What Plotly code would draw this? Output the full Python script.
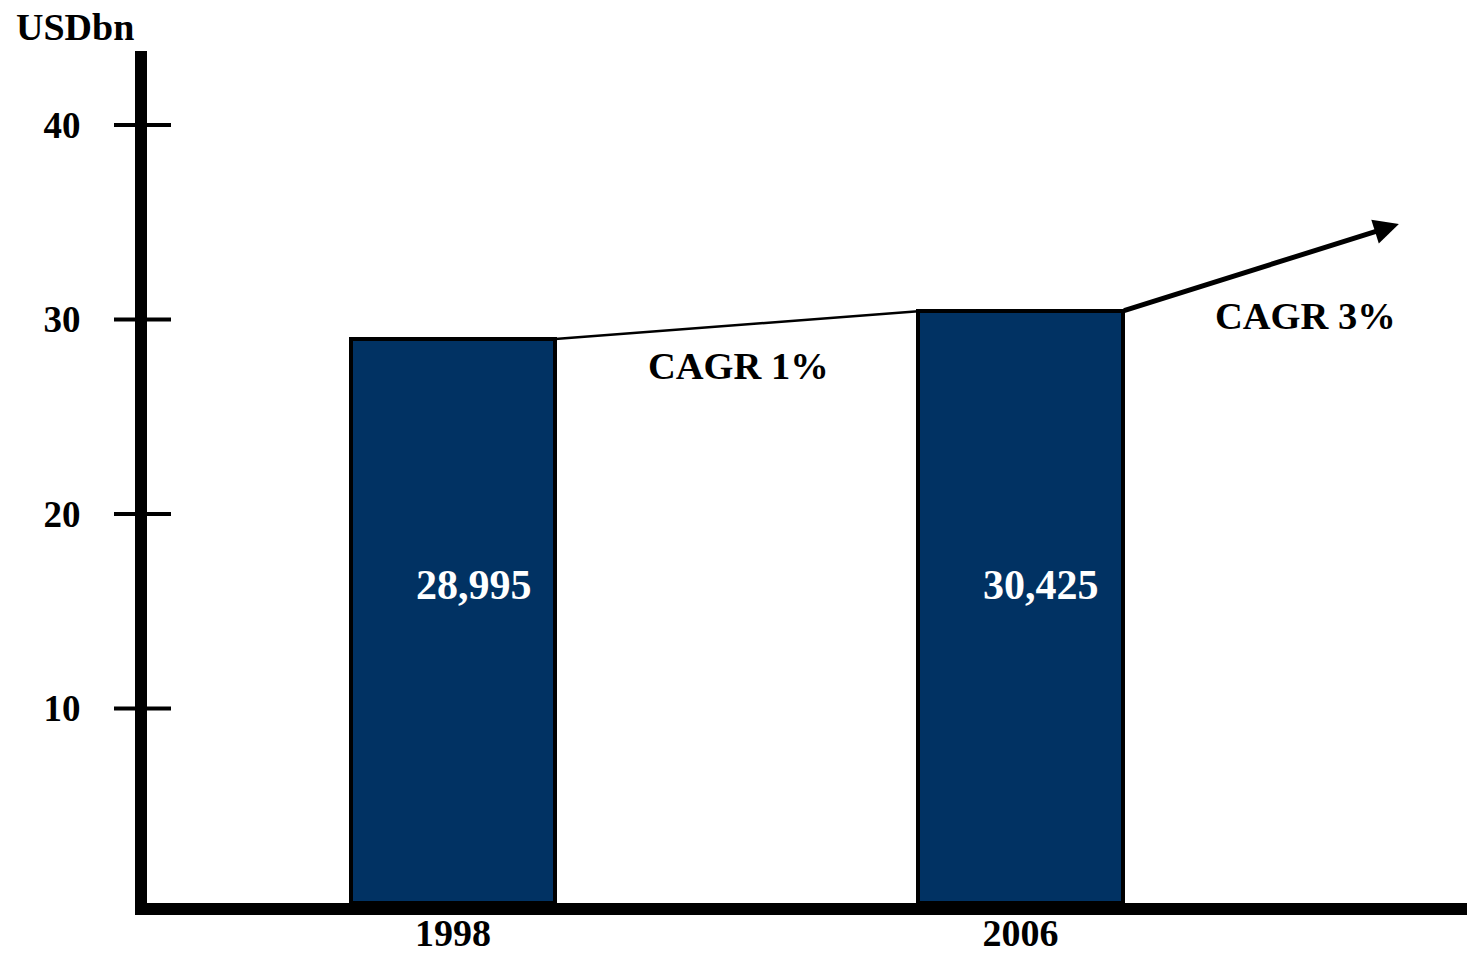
import plotly.graph_objects as go

# Market size, USD bn
years = ["1998", "2006"]
values = [28.995, 30.425]
cagr_pct = [1, 3]
y_ticks = [10, 20, 30, 40]

# Projection arrow beyond 2006 (x in category units, value in USD bn)
projection_x = 1.667
projection_value = 34.9

bar_width = 0.36
navy = "#013263"
serif = "Liberation Serif, Times New Roman, serif"

# Plot area in pixels
W, H = 1467, 955
M_L, M_R, M_T, M_B = 147, 0, 51, 52
plot_w = W - M_L - M_R
plot_h = H - M_T - M_B


def py(pixel_y):
    """Paper y for a pixel row measured from the top of the page."""
    return (H - M_B - pixel_y) / plot_h


def px(pixel_x):
    """Paper x for a pixel column measured from the left of the page."""
    return (pixel_x - M_L) / plot_w


x_pos = list(range(len(years)))

fig = go.Figure()

fig.add_trace(go.Bar(
    x=x_pos,
    y=values,
    width=bar_width,
    marker=dict(color=navy, line=dict(color="black", width=4)),
    hoverinfo="skip",
    showlegend=False,
))

# Connector between the two bar tops (CAGR 1998-2006)
fig.add_trace(go.Scatter(
    x=[x_pos[0] + bar_width / 2, x_pos[1] - bar_width / 2],
    y=[values[0], values[1]],
    mode="lines",
    line=dict(color="black", width=2.5),
    hoverinfo="skip",
    showlegend=False,
))

annotations = []

# Value labels inside the bars
for xp, v in zip(x_pos, values):
    annotations.append(dict(
        x=xp, y=py(585), xref="x", yref="paper",
        xanchor="center", yanchor="middle",
        text=f"{v * 1000:,.0f}", showarrow=False, xshift=21,
        font=dict(family=serif, size=42, color="white", weight="bold"),
    ))

# Growth arrow after 2006
annotations.append(dict(
    x=projection_x, y=projection_value, xref="x", yref="y",
    ax=x_pos[1] + bar_width / 2, ay=values[1], axref="x", ayref="y",
    text="", showarrow=True, arrowhead=2, arrowsize=1, arrowwidth=5,
    arrowcolor="black",
))

# CAGR labels
annotations.append(dict(
    x=0.5, y=py(366), xref="x", yref="paper",
    xanchor="center", yanchor="middle",
    text=f"CAGR {cagr_pct[0]}%", showarrow=False, xshift=2,
    font=dict(family=serif, size=38.5, color="black", weight="bold"),
))
annotations.append(dict(
    x=1.5, y=py(316), xref="x", yref="paper",
    xanchor="center", yanchor="middle",
    text=f"CAGR {cagr_pct[1]}%", showarrow=False, xshift=1,
    font=dict(family=serif, size=38.5, color="black", weight="bold"),
))

# Unit label
annotations.append(dict(
    x=px(14), y=py(27), xref="paper", yref="paper",
    xanchor="left", yanchor="middle",
    text="USDbn", showarrow=False,
    font=dict(family=serif, size=38, color="black", weight="bold"),
))

# Tick marks crossing the y axis
shapes = []
for t in y_ticks:
    shapes.append(dict(
        type="line", xref="paper", yref="y",
        x0=px(114), x1=px(171), y0=t, y1=t,
        line=dict(color="black", width=4), layer="above",
    ))

fig.update_layout(annotations=annotations, shapes=shapes)

fig.update_xaxes(
    range=[-0.539, 1.787],
    tickvals=x_pos, ticktext=years,
    showline=True, linewidth=12, linecolor="black",
    showgrid=False, zeroline=False, automargin=False,
    ticks="", ticklabelstandoff=-15,
    tickfont=dict(family=serif, size=38, color="black", weight="bold"),
)
fig.update_yaxes(
    range=[0, 43.8],
    tickvals=y_ticks,
    showline=True, linewidth=12, linecolor="black",
    showgrid=False, zeroline=False, automargin=False,
    ticks="outside", ticklen=47, tickcolor="rgba(0,0,0,0)",
    tickfont=dict(family=serif, size=37, color="black", weight="bold"),
)

fig.update_layout(
    width=W, height=H, autosize=False,
    margin=dict(l=M_L, r=M_R, t=M_T, b=M_B, pad=0),
    plot_bgcolor="white", paper_bgcolor="white",
    bargap=0,
)

fig.write_html("out.html")
